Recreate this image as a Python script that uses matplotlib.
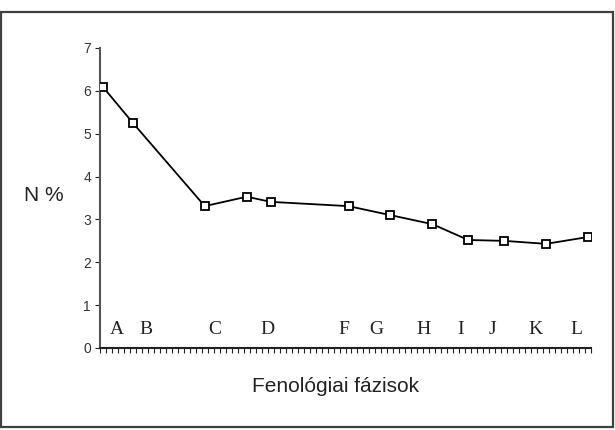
import matplotlib.pyplot as plt
from matplotlib.patches import Rectangle
import numpy as np

# sampling days (category index on the x axis) and N % values
days = [0, 5, 17, 24, 28, 41, 48, 55, 61, 67, 74, 81]
n_pct = [6.09, 5.25, 3.31, 3.53, 3.41, 3.31, 3.10, 2.89, 2.52, 2.50, 2.43, 2.59]

# phenological phase letters and where they sit on the x axis
phases = ['A', 'B', 'C', 'D', 'F', 'G', 'H', 'I', 'J', 'K', 'L']
phase_x = [2.3, 7.2, 18.7, 27.5, 40.3, 45.7, 53.5, 59.7, 65.0, 72.2, 79.0]
n_days = 82

fig = plt.figure(figsize=(6.15, 4.30), dpi=100)
fig.patches.append(Rectangle((0.002, 0.007), 0.995, 0.965, transform=fig.transFigure,
                             fill=False, edgecolor='#404040', linewidth=1.6))

ax = fig.add_axes([0.1626, 0.1907, 0.7984, 0.6977])
ax.plot(days, n_pct, color='black', linewidth=1.3, marker='s', markersize=6,
        markerfacecolor='white', markeredgecolor='black', markeredgewidth=1.3, zorder=3)

for lab, xp in zip(phases, phase_x):
    ax.text(xp, 0.44, lab, ha='center', va='center', fontsize=14,
            family='Liberation Serif', color='#222222')

ax.set_xlim(-0.5, n_days - 0.5)
ax.set_ylim(0, 7)
ax.set_xticks(np.arange(-0.5, n_days, 1.0))
ax.set_xticklabels([])
ax.set_yticks(range(8))
ax.tick_params(axis='x', direction='out', length=3.5, width=0.8, color='#222222')
ax.tick_params(axis='y', direction='out', length=3.5, width=0.8, color='#222222',
               labelsize=10, labelcolor='#333333', pad=3)
for lab in ax.get_yticklabels():
    lab.set_family('Liberation Sans')

for side in ['top', 'right']:
    ax.spines[side].set_visible(False)
ax.spines['left'].set_color('#555555')
ax.spines['left'].set_linewidth(1.5)
ax.spines['bottom'].set_color('#222222')
ax.spines['bottom'].set_linewidth(1.5)

fig.text(0.071, 0.545, 'N %', ha='center', va='center', fontsize=15,
         family='Liberation Sans', color='#222222')
fig.text(0.5455, 0.102, 'Fenológiai fázisok', ha='center', va='center', fontsize=15,
         family='Liberation Sans', color='#222222')

fig.savefig('out.png', dpi=100)
